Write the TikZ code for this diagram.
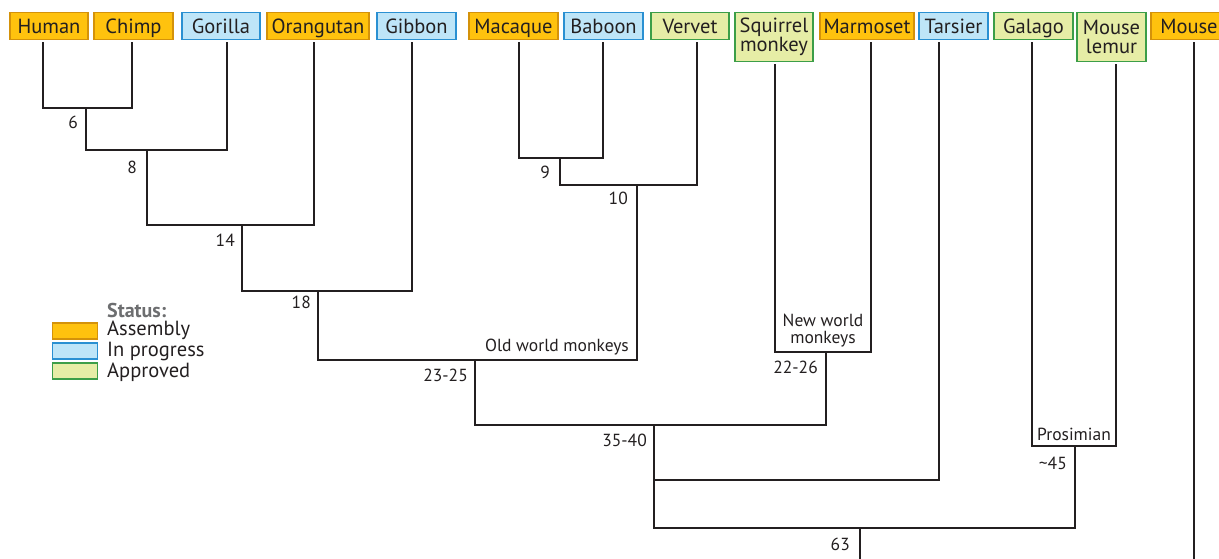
\documentclass[tikz,border=0pt]{standalone}
\usepackage{fontspec}
\setmainfont{PT Sans}
\begin{document}
\begin{tikzpicture}[x=1pt,y=-1pt,
  taxon/.style={draw, line width=1.1pt, inner sep=0pt, anchor=north,
    minimum height=27pt, align=center, text=treeline,
    font=\fontsize{20.5}{19}\selectfont},
  oneline/.style={text height=16.5pt, text depth=2.5pt},
  twoline/.style={minimum height=49pt},
  asm/.style={fill=asmfill, draw=asmline},
  prog/.style={fill=progfill, draw=progline},
  appr/.style={fill=apprfill, draw=apprline},
  branch/.style={draw=treeline, line width=2.8pt, line cap=rect},
  age/.style={anchor=east, inner sep=0pt, text=treeline,
    font=\fontsize{17.5}{17.5}\selectfont},
  clade/.style={anchor=south, inner sep=0pt, align=center, text=treeline,
    font=\fontsize{17.5}{17}\selectfont},
  swatch/.style={draw, line width=1.1pt, minimum width=45pt, minimum height=16pt,
    inner sep=0pt, anchor=west},
  legtext/.style={anchor=west, inner sep=0pt, text=treeline,
    font=\fontsize{20.5}{20}\selectfont}]
\definecolor{asmfill}{HTML}{FFC20E}
\definecolor{asmline}{HTML}{D4920A}
\definecolor{progfill}{HTML}{BEE5F8}
\definecolor{progline}{HTML}{2A90D2}
\definecolor{apprfill}{HTML}{E6EDA6}
\definecolor{apprline}{HTML}{3C9E48}
\definecolor{treeline}{HTML}{231F20}
\definecolor{statusgray}{HTML}{6D6E70}

\useasboundingbox (0,0) rectangle (1219,558);

% taxon boxes
\node[taxon,oneline,asm,minimum width=78pt]  (human)    at (49,12)    {Human};
\node[taxon,oneline,asm,minimum width=79pt]  (chimp)    at (133.5,12) {Chimp};
\node[taxon,oneline,prog,minimum width=78pt] (gorilla)  at (221,12)   {Gorilla};
\node[taxon,oneline,asm,minimum width=102pt] (orang)    at (318,12)   {Orangutan};
\node[taxon,oneline,prog,minimum width=79pt] (gibbon)   at (416.5,12) {Gibbon};
\node[taxon,oneline,asm,minimum width=89pt]  (macaque)  at (513.5,12) {Macaque};
\node[taxon,oneline,prog,minimum width=79pt] (baboon)   at (603.5,12) {Baboon};
\node[taxon,oneline,appr,minimum width=78pt] (vervet)   at (690,12)   {Vervet};
\node[taxon,twoline,appr,minimum width=78pt] (squirrel) at (774,12)   {Squirrel\\monkey};
\node[taxon,oneline,asm,minimum width=94pt]  (marmoset) at (867,12)   {Marmoset};
\node[taxon,oneline,prog,minimum width=69pt] (tarsier)  at (953.5,12) {Tarsier};
\node[taxon,oneline,appr,minimum width=79pt] (galago)   at (1033.5,12){Galago};
\node[taxon,twoline,appr,minimum width=69pt] (lemur)    at (1111.5,12){Mouse\\lemur};
\node[taxon,oneline,asm,minimum width=76pt]  (mouse)    at (1189,12)  {Mouse};

% tops of the branches under each box
\coordinate (t-human)    at (43,43);
\coordinate (t-chimp)    at (132,43);
\coordinate (t-gorilla)  at (227,43);
\coordinate (t-orang)    at (314,43);
\coordinate (t-gibbon)   at (412,43);
\coordinate (t-macaque)  at (519,43);
\coordinate (t-baboon)   at (603,43);
\coordinate (t-vervet)   at (697,43);
\coordinate (t-squirrel) at (775,65);
\coordinate (t-marmoset) at (871,43);
\coordinate (t-tarsier)  at (939,43);
\coordinate (t-galago)   at (1032,43);
\coordinate (t-lemur)    at (1116,65);
\coordinate (t-mouse)    at (1194,43);

% internal joins
\coordinate (j6)  at (86,108);
\coordinate (j8)  at (147,150);
\coordinate (j14) at (242,225);
\coordinate (j18) at (318,291);
\coordinate (j9)  at (560,158);
\coordinate (j10) at (637,185);
\coordinate (jow) at (475,360);
\coordinate (jnw) at (826,352);
\coordinate (j35) at (654,425);
\coordinate (jt)  at (654,480);
\coordinate (jp)  at (1075,446);
\coordinate (j63) at (860,528);
\coordinate (root)   at (860,562);
\coordinate (m-end)  at (1194,562);

% tree
\draw[branch] (t-human) |- (j6) -| (t-chimp);
\draw[branch] (j6) |- (j8) -| (t-gorilla);
\draw[branch] (j8) |- (j14) -| (t-orang);
\draw[branch] (j14) |- (j18) -| (t-gibbon);
\draw[branch] (t-macaque) |- (j9) -| (t-baboon);
\draw[branch] (j9) |- (j10) -| (t-vervet);
\draw[branch] (j18) |- (jow) -| (j10);
\draw[branch] (t-squirrel) |- (jnw) -| (t-marmoset);
\draw[branch] (jow) |- (j35) -| (jnw);
\draw[branch] (j35) -- (jt) -| (t-tarsier);
\draw[branch] (t-galago) |- (jp) -| (t-lemur);
\draw[branch] (jt) |- (j63) -| (jp);
\draw[branch] (j63) -- (root);
\draw[branch] (t-mouse) -- (m-end);

% divergence times
\node[age] (a6)  at (78,122)   {6};
\node[age] (a8)  at (137,167)  {8};
\node[age] (a14) at (235,240)  {14};
\node[age] (a18) at (311,302)  {18};
\node[age] (a9)  at (550,172)  {9};
\node[age] (a10) at (628,198)  {10};
\node[age] (a23) at (468,375)  {23-25};
\node[age] (a22) at (818,367)  {22-26};
\node[age] (a35) at (647,440)  {35-40};
\node[age] (a45) at (1067,463) {\textasciitilde45};
\node[age] (a63) at (850,544)  {63};

% clade names
\node[clade,anchor=south east] (owm) at (629,355) {Old world monkeys};
\node[clade] (nwm) at (823,347) {New world\\monkeys};
\node[clade] (pro) at (1074,441) {Prosimian};

% legend
\node[anchor=west, inner sep=0pt, text=statusgray,
  font=\fontsize{20}{20}\selectfont\bfseries] (status) at (107,310) {Status:};
\node[swatch,asm]  (s-asm)  at (52,331) {};
\node[swatch,prog] (s-prog) at (52,351) {};
\node[swatch,appr] (s-appr) at (52,371) {};
\node[legtext] (l-asm)  at (107,330) {Assembly};
\node[legtext] (l-prog) at (107,351) {In progress};
\node[legtext] (l-appr) at (107,372) {Approved};
\end{tikzpicture}
\end{document}
